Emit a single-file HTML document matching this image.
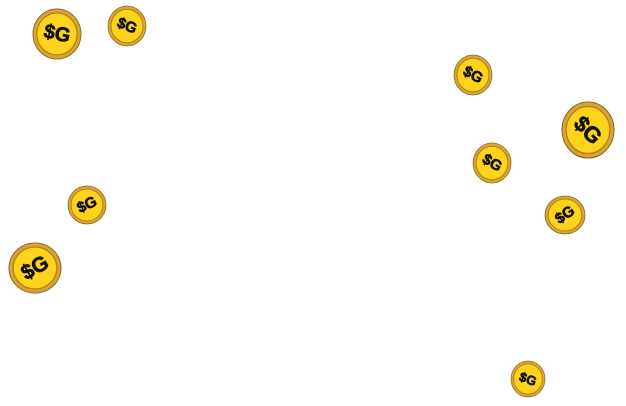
<!DOCTYPE html>
<html><head><style>
html,body{margin:0;padding:0;background:#fff;width:626px;height:406px;overflow:hidden}
text{font-family:"Liberation Sans",sans-serif;font-weight:900;fill:#111;text-anchor:middle;dominant-baseline:central;stroke:#111;stroke-width:0.6}
</style></head><body>
<svg width="626" height="406" viewBox="0 0 626 406" xmlns="http://www.w3.org/2000/svg">
<defs>
<g id="c">
<circle r="1" fill="#d9a530" stroke="#8a6a2a" stroke-width="0.04"/>
<circle r="0.84" fill="#fdd31c" stroke="#b07f1e" stroke-width="0.05"/>
</g>
</defs>
<g transform="translate(57,34)"><use href="#c" transform="scale(24,25)"/><text transform="rotate(12)" font-size="20">$G</text></g>
<g transform="translate(127,26)"><use href="#c" transform="scale(19,20)"/><text transform="rotate(22)" font-size="15">$G</text></g>
<g transform="translate(473,75)"><use href="#c" transform="scale(19,20)"/><text transform="rotate(28)" font-size="15">$G</text></g>
<g transform="translate(588,130)"><use href="#c" transform="scale(26,28)"/><text transform="rotate(45)" font-size="22">$G</text></g>
<g transform="translate(492,163)"><use href="#c" transform="scale(19,20)"/><text transform="rotate(30)" font-size="15">$G</text></g>
<g transform="translate(87,205)"><use href="#c" transform="scale(19,19)"/><text transform="rotate(-25)" font-size="15">$G</text></g>
<g transform="translate(565,215)"><use href="#c" transform="scale(20,19)"/><text transform="rotate(-35)" font-size="15">$G</text></g>
<g transform="translate(35,268)"><use href="#c" transform="scale(26,25)"/><text transform="rotate(-30)" font-size="21">$G</text></g>
<g transform="translate(528,379)"><use href="#c" transform="scale(17,18)"/><text transform="rotate(20)" font-size="13">$G</text></g>
</svg>
</body></html>
